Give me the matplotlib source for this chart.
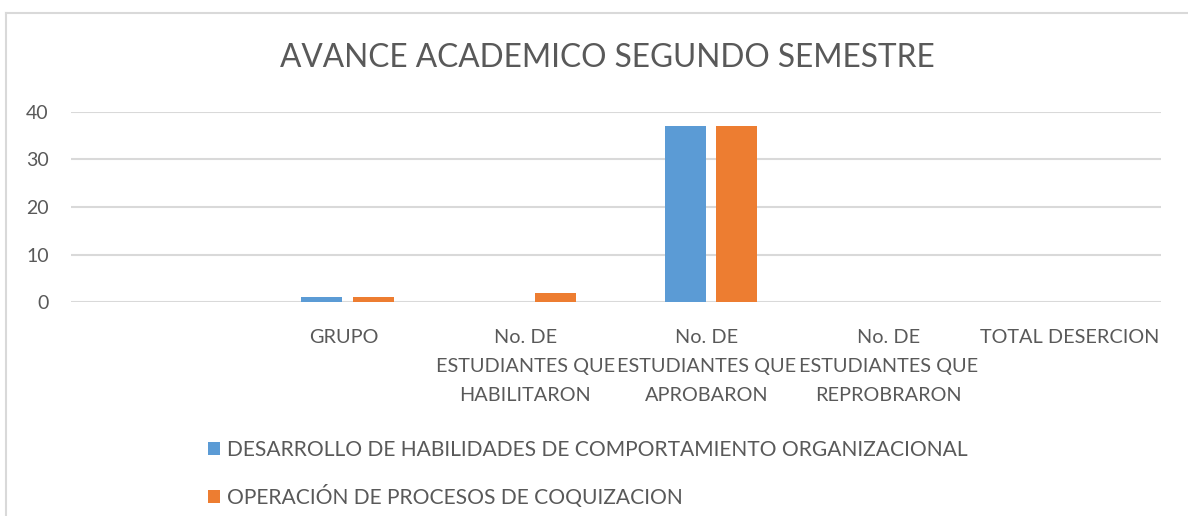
import matplotlib
matplotlib.use('Agg')

import matplotlib.pyplot as plt
from matplotlib.lines import Line2D
import numpy as np

plt.rcParams['font.family'] = ['Lato', 'DejaVu Sans']

categories = ['', 'GRUPO', 'No. DE\nESTUDIANTES QUE\nHABILITARON',
              'No. DE\nESTUDIANTES QUE\nAPROBARON',
              'No. DE\nESTUDIANTES QUE\nREPROBRARON', 'TOTAL DESERCION']
desarrollo = [0, 1, 0, 37, 0, 0]
operacion = [0, 1, 2, 37, 0, 0]
series_names = ['DESARROLLO DE HABILIDADES DE COMPORTAMIENTO ORGANIZACIONAL',
                'OPERACIÓN DE PROCESOS DE COQUIZACION']
yticks = [0, 10, 20, 30, 40]

text_color = '#595959'
grid_color = '#D9D9D9'

W, H = 1188, 516
fig = plt.figure(figsize=(W / 100, H / 100), dpi=100)
ax = fig.add_axes([71 / W, 1 - 302 / H, (1161 - 71) / W, (302 - 112) / H])

x = np.arange(len(categories))
bw = 0.226
b1 = ax.bar(x - 0.12, desarrollo, width=bw, color='#5B9BD5', label=series_names[0], zorder=3)
b2 = ax.bar(x + 0.165, operacion, width=bw, color='#ED7D31', label=series_names[1], zorder=3)

ax.set_xlim(-0.5, 5.5)
ax.set_ylim(0, 40)
ax.set_yticks(yticks)
ax.grid(axis='y', color=grid_color, linewidth=1.5, zorder=0)
for s in ax.spines.values():
    s.set_visible(False)
ax.tick_params(axis='both', length=0, colors=text_color, labelsize=14)
ax.tick_params(axis='y', pad=16)
ax.tick_params(axis='x', pad=19.5)
ax.set_xticks(x)
ax.set_xticklabels(categories, linespacing=1.85, color=text_color, fontsize=14.3)

fig.text(607 / W, 1 - 67 / H, 'AVANCE ACADEMICO SEGUNDO SEMESTRE', ha='center',
         va='baseline', fontsize=22.8, color=text_color)

fig.legend(handles=[b1, b2], loc='upper left', bbox_to_anchor=(189 / W, 1 - 421 / H),
           frameon=False, fontsize=15.1, labelcolor=text_color, handlelength=0.6,
           handleheight=0.6, handletextpad=0.3, labelspacing=1.2)

# chart border (top and left edges visible)
fig.add_artist(Line2D([6 / W, 6 / W], [0, 1 - 13 / H], transform=fig.transFigure,
                      color=grid_color, linewidth=1.5))
fig.add_artist(Line2D([6 / W, 1], [1 - 13 / H, 1 - 13 / H], transform=fig.transFigure,
                      color=grid_color, linewidth=1.5))

fig.savefig('out.png', dpi=100)
plt.close(fig)
